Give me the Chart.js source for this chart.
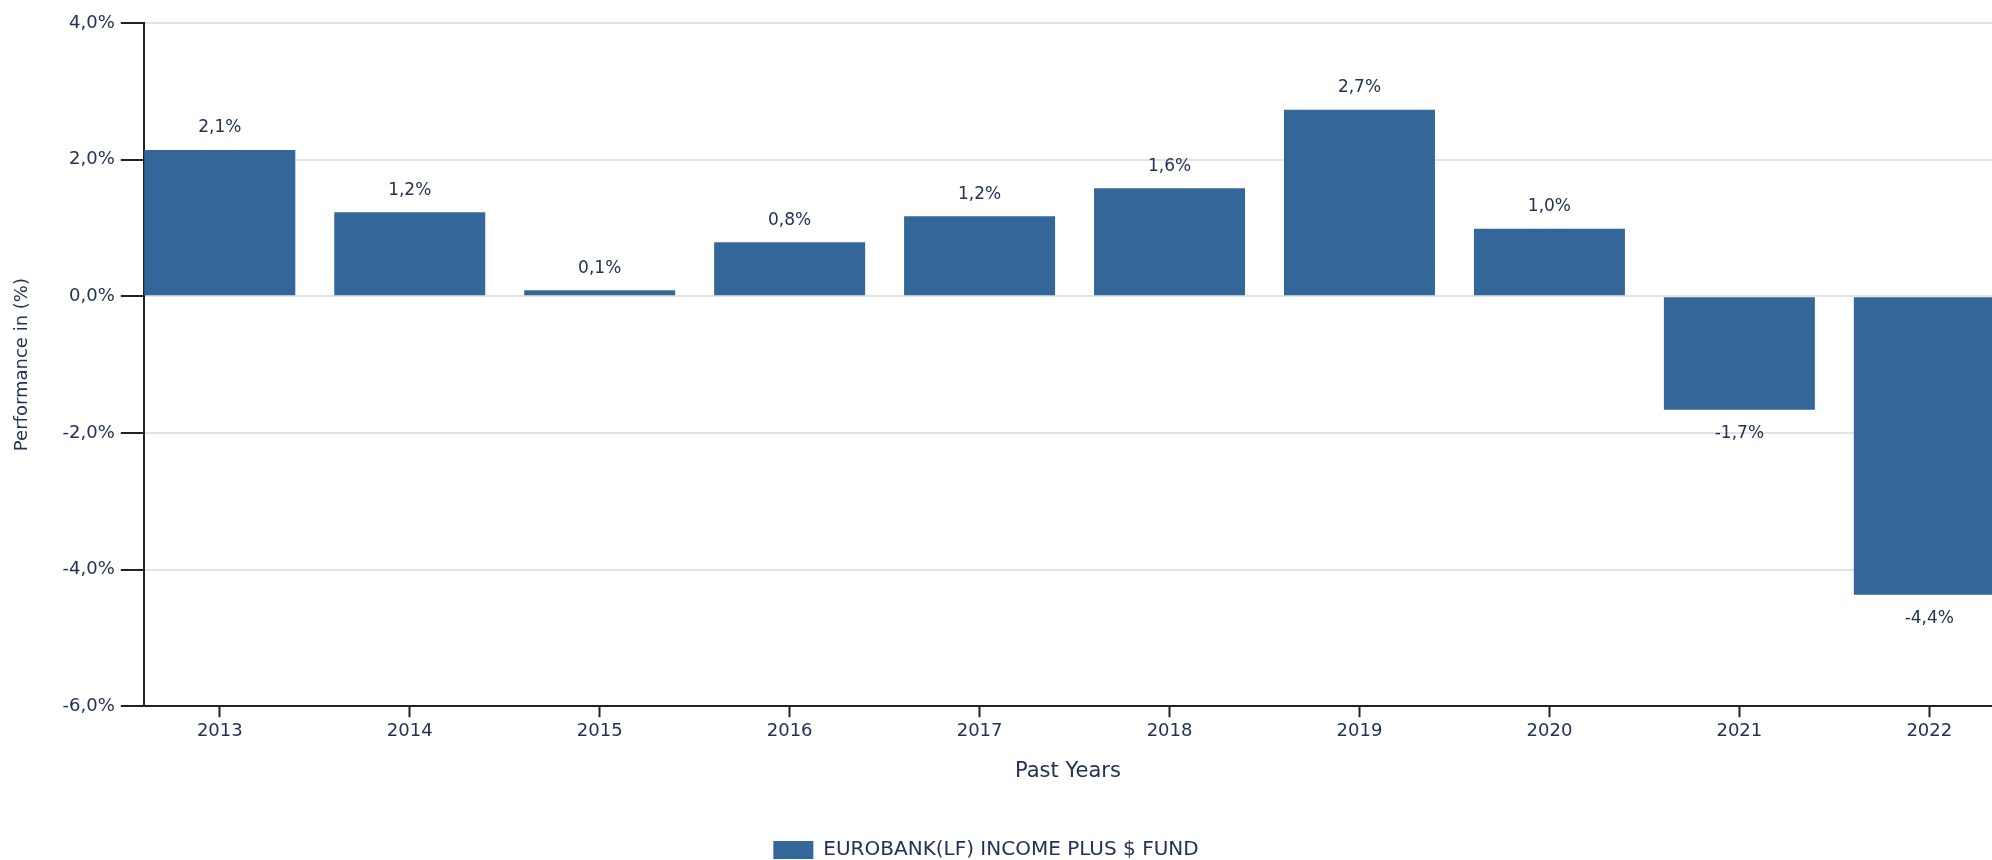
<!DOCTYPE html>
<html>
<head>
<meta charset="utf-8">
<script src="https://cdn.jsdelivr.net/npm/chart.js@4/dist/chart.umd.min.js"></script>
<style>
  html, body { margin: 0; padding: 0; background: #ffffff; overflow: hidden; }
  #wrap { position: absolute; left: -20px; top: 0; width: 2012px; height: 870px; }
</style>
</head>
<body>
<div id="wrap"><canvas id="c"></canvas></div>
<script>
// ---- data ----
const years = [2013, 2014, 2015, 2016, 2017, 2018, 2019, 2020, 2021, 2022];
const performance = [2.14, 1.23, 0.09, 0.79, 1.17, 1.58, 2.73, 0.99, -1.66, -4.37];
const seriesName = 'EUROBANK(LF) INCOME PLUS $ FUND';
const yTickValues = [-6, -4, -2, 0, 2, 4];
const xTitle = 'Past Years';
const yTitle = 'Performance in (%)';

const TEXT = '#223255';
const BAR = '#346799';
const FONT = 'DejaVu Sans';

const fmtPct = v => v.toFixed(1).replace('.', ',') + '%';

const valueLabels = {
  id: 'valueLabels',
  afterDatasetsDraw(chart) {
    const ctx = chart.ctx;
    const meta = chart.getDatasetMeta(0);
    const ds = chart.data.datasets[0];
    ctx.save();
    ctx.beginPath();
    ctx.rect(chart.chartArea.left, 0, chart.chartArea.right - chart.chartArea.left, chart.height);
    ctx.clip();
    ctx.fillStyle = TEXT;
    ctx.font = '17px "' + FONT + '"';
    ctx.textAlign = 'center';
    ctx.textBaseline = 'middle';
    meta.data.forEach((el, i) => {
      const v = ds.data[i].y;
      const y = v >= 0 ? el.y - 22 : el.y + 24;
      ctx.fillText(fmtPct(v), el.x, y);
    });
    ctx.restore();
  }
};

new Chart(document.getElementById('c'), {
  type: 'bar',
  data: {
    datasets: [{
      label: seriesName,
      data: years.map((yr, i) => ({ x: yr, y: performance[i] })),
      backgroundColor: BAR,
      borderWidth: 0,
      categoryPercentage: 1.0,
      barPercentage: 0.795
    }]
  },
  options: {
    responsive: true,
    maintainAspectRatio: false,
    animation: false,
    layout: { padding: { top: 23, left: 0, right: 0, bottom: 0 } },
    plugins: {
      tooltip: { enabled: false },
      legend: {
        position: 'bottom',
        labels: {
          boxWidth: 40,
          boxHeight: 18,
          padding: 10,
          color: TEXT,
          font: { family: FONT, size: 20 }
        }
      }
    },
    scales: {
      x: {
        type: 'linear',
        offset: false,
        min: 2012.6,
        max: 2022.33,
        afterBuildTicks: s => { s.ticks = years.map(v => ({ value: v })); },
        ticks: {
          autoSkip: false,
          maxRotation: 0,
          padding: 3,
          color: TEXT,
          font: { family: FONT, size: 18 },
          callback: v => String(v)
        },
        grid: {
          offset: false,
          drawOnChartArea: false,
          tickLength: 11,
          tickColor: '#222222',
          tickWidth: 2
        },
        border: { display: true, color: '#222222', width: 2 },
        title: {
          display: true,
          text: xTitle,
          color: TEXT,
          font: { family: FONT, size: 21 },
          padding: { top: 14, bottom: 46 }
        }
      },
      y: {
        min: -6,
        max: 4,
        afterBuildTicks: s => { s.ticks = yTickValues.map(v => ({ value: v })); },
        ticks: {
          padding: 6,
          color: TEXT,
          font: { family: FONT, size: 18 },
          callback: v => fmtPct(v)
        },
        grid: {
          color: '#e3e3e3',
          lineWidth: 2,
          tickLength: 23,
          tickColor: '#222222',
          tickWidth: 2
        },
        border: { display: true, color: '#222222', width: 2 },
        title: {
          display: true,
          text: yTitle,
          color: TEXT,
          font: { family: FONT, size: 18 },
          padding: { top: 32, bottom: 23 }
        }
      }
    }
  },
  plugins: [valueLabels]
});
</script>
</body>
</html>
